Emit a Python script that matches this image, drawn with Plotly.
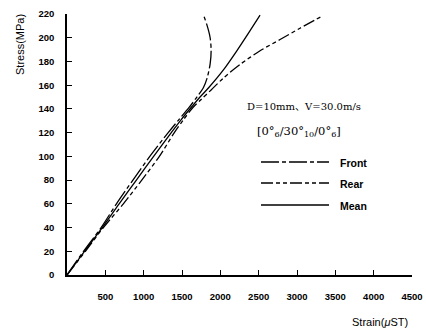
import plotly.graph_objects as go

# ---- data ----
front_strain = [0, 215, 445, 645, 860, 1080, 1320, 1460, 1590, 1694, 1780, 1832, 1867, 1880, 1867, 1824, 1775]
front_stress = [0, 20, 40, 60, 80, 100, 120, 131, 141, 150, 158, 167, 178, 189, 200, 211, 220]

rear_strain = [0, 240, 475, 735, 975, 1205, 1400, 1520, 1640, 1750, 1880, 2040, 2258, 2518, 2779, 3039, 3322]
rear_stress = [0, 20, 40, 60, 80, 100, 120, 131, 141, 148, 156, 166, 177.5, 189, 198.5, 208, 218]

mean_strain = [0, 228, 460, 680, 905, 1130, 1360, 1490, 1630, 1735, 1850, 2030, 2215, 2388, 2518]
mean_stress = [0, 20, 40, 60, 80, 100, 120, 131, 142, 150, 158, 172, 189, 206, 219]

x_ticks = [500, 1000, 1500, 2000, 2500, 3000, 3500, 4000, 4500]
y_ticks = [0, 20, 40, 60, 80, 100, 120, 140, 160, 180, 200, 220]

series_names = ["Front", "Rear", "Mean"]

# ---- layout geometry (pixels) ----
W, H = 426, 329
L, R, T, B = 67, 14, 14, 54
PX0, PX1 = L, W - R
PY0, PY1 = T, H - B


def px(x):
    return (x - PX0) / (PX1 - PX0)


def py(y):
    return (PY1 - y) / (PY1 - PY0)


FRONT_DASH = "18px,3px,4px,3px"
REAR_DASH = "12px,3px,4px,3px,4px,3px"

fig = go.Figure()
fig.add_trace(go.Scatter(x=front_strain, y=front_stress, mode="lines", name="Front",
                         line=dict(color="black", width=1.3, dash=FRONT_DASH, shape="spline", smoothing=0.8)))
fig.add_trace(go.Scatter(x=rear_strain, y=rear_stress, mode="lines", name="Rear",
                         line=dict(color="black", width=1.3, dash=REAR_DASH, shape="spline", smoothing=0.8)))
fig.add_trace(go.Scatter(x=mean_strain, y=mean_stress, mode="lines", name="Mean",
                         line=dict(color="black", width=1.3, shape="spline", smoothing=0.8)))

tick_font = dict(family="Liberation Sans, Arial", size=9.5, color="black", weight="bold")

fig.update_layout(
    template="none",
    width=W, height=H,
    margin=dict(l=L, r=R, t=T, b=B, pad=0, autoexpand=False),
    paper_bgcolor="white", plot_bgcolor="white",
    showlegend=False,
    xaxis=dict(range=[0, 4500], tickvals=x_ticks, ticktext=[str(v) for v in x_ticks],
               ticks="inside", ticklen=5, tickwidth=1.2, tickcolor="black",
               showline=True, linecolor="black", linewidth=1.5, automargin=False,
               showgrid=False, zeroline=False, tickfont=tick_font,
               ticklabelstandoff=12),
    yaxis=dict(range=[0, 220], tickvals=y_ticks, ticktext=[str(v) for v in y_ticks],
               ticks="inside", ticklen=5, tickwidth=1.2, tickcolor="black",
               showline=True, linecolor="black", linewidth=1.5, automargin=False,
               showgrid=False, zeroline=False, tickfont=tick_font,
               ticklabelstandoff=9),
)

annots = [
    dict(text="Strain(<i>μ</i>ST)", x=px(380), y=py(322), xanchor="center", yanchor="middle",
         font=dict(family="Liberation Sans, Arial", size=11, color="black")),
    dict(text="Stress(MPa)", x=px(20), y=py(45), xanchor="center", yanchor="middle", textangle=-90,
         font=dict(family="Liberation Sans, Arial", size=11, color="black")),
    dict(text="D=10mm、V=30.0m/s", x=px(245), y=py(106), xanchor="left", yanchor="middle",
         font=dict(family="DejaVu Serif, Noto Sans CJK SC", size=10, color="black")),
    dict(text="[0°<sub>6</sub>/30°<sub>10</sub>/0°<sub>6</sub>]", x=px(255), y=py(131),
         xanchor="left", yanchor="middle",
         font=dict(family="DejaVu Serif", size=11.5, color="black")),
]

legend_y = [162, 183, 205]
dashes = [FRONT_DASH, REAR_DASH, "solid"]
for name, yy, d in zip(series_names, legend_y, dashes):
    fig.add_shape(type="line", xref="paper", yref="paper",
                  x0=px(261), x1=px(329), y0=py(yy), y1=py(yy),
                  line=dict(color="black", width=1.3, dash=d))
    annots.append(dict(text=name, x=px(338), y=py(yy + 1), xanchor="left", yanchor="middle",
                       font=dict(family="Liberation Sans, Arial", size=10.5, color="black",
                                 weight="bold")))

for a in annots:
    a.update(xref="paper", yref="paper", showarrow=False)
    fig.add_annotation(**a)

fig.write_html("out.html")
